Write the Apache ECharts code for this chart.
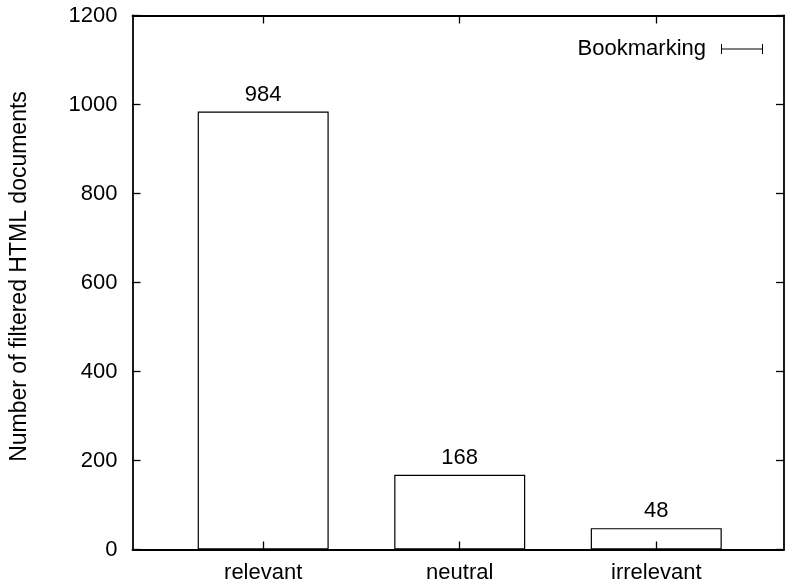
<!DOCTYPE html>
<html>
<head>
<meta charset="utf-8">
<script src="https://cdn.jsdelivr.net/npm/echarts@6/dist/echarts.min.js"></script>
<style>
  html, body { margin: 0; padding: 0; background: #fff; }
  #chart { width: 788px; height: 587px; }
</style>
</head>
<body>
<div id="chart"></div>
<script>
// Document counts per relevance class
const categories = ['relevant', 'neutral', 'irrelevant'];
const counts = [984, 168, 48];
const yTicks = [0, 200, 400, 600, 800, 1000, 1200];
const seriesName = 'Bookmarking';

// Bars sit at x = 1, 2, 3 on a numeric axis
const positions = categories.map((_, i) => i + 1);
const barData = positions.map((x, i) => [x, counts[i]]);

const font = 'Liberation Sans, Arial, Helvetica, sans-serif';
const chart = echarts.init(document.getElementById('chart'), null, { renderer: 'canvas' });

// error-bar style legend key: |-----|
const keyIcon = 'path://M0,0 H1 V4.4 H41 V0 H42 V10 H41 V5.6 H1 V10 H0 Z';

const xCommon = {
  type: 'value',
  min: 0.335,
  max: 3.65,
  z: 5,
  axisLine: { show: true, onZero: false, lineStyle: { color: '#000', width: 1.8 } },
  splitLine: { show: false },
  axisTick: { show: true, inside: true, length: 8, customValues: positions, lineStyle: { color: '#000', width: 1.3 } }
};
const yCommon = {
  type: 'value',
  min: yTicks[0],
  max: yTicks[yTicks.length - 1],
  interval: yTicks[1] - yTicks[0],
  z: 5,
  axisLine: { show: true, lineStyle: { color: '#000', width: 1.8 } },
  splitLine: { show: false },
  axisTick: { show: true, inside: true, length: 8, lineStyle: { color: '#000', width: 1.3 } }
};

chart.setOption({
  backgroundColor: '#fff',
  animation: false,
  textStyle: { fontFamily: font, color: '#000' },
  grid: { left: 132.5, right: 4, top: 15.5, bottom: 37.5, containLabel: false, outerBoundsMode: 'none' },
  legend: {
    show: true,
    right: 20,
    top: 33,
    align: 'right',
    itemWidth: 42,
    itemHeight: 10,
    itemGap: 10,
    textStyle: { fontFamily: font, fontSize: 22, color: '#000', padding: [0, 10, 0, 0] },
    data: [{ name: seriesName, icon: keyIcon, itemStyle: { color: '#000', borderWidth: 0 } }]
  },
  xAxis: [
    Object.assign({}, xCommon, {
      position: 'bottom',
      axisLabel: {
        show: true,
        customValues: positions,
        margin: 12,
        fontSize: 22,
        color: '#000',
        fontFamily: font,
        formatter: v => categories[Math.round(v) - 1] || ''
      }
    }),
    Object.assign({}, xCommon, { position: 'top', axisLabel: { show: false } })
  ],
  yAxis: [
    Object.assign({}, yCommon, {
      position: 'left',
      name: 'Number of filtered HTML documents',
      nameLocation: 'middle',
      nameGap: 101,
      nameRotate: 90,
      nameTextStyle: { fontSize: 23, color: '#000', fontFamily: font, padding: [0, 0, 0, 12] },
      axisLabel: { show: true, margin: 15, fontSize: 22, color: '#000', fontFamily: font, formatter: v => String(v) }
    }),
    Object.assign({}, yCommon, { position: 'right', axisLabel: { show: false } })
  ],
  series: [{
    name: seriesName,
    type: 'bar',
    xAxisIndex: 0,
    yAxisIndex: 0,
    barWidth: 131,
    data: barData,
    itemStyle: { color: '#fff', borderColor: '#000', borderWidth: 1.2 },
    label: {
      show: true,
      position: 'top',
      distance: 6,
      fontSize: 22,
      color: '#000',
      fontFamily: font,
      formatter: p => String(p.value[1])
    }
  }]
});
</script>
</body>
</html>
